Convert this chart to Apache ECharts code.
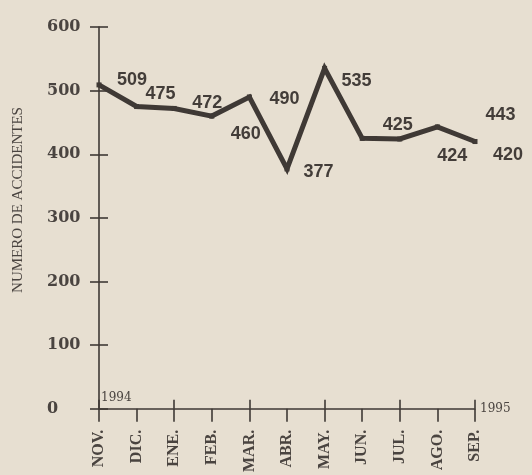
<!DOCTYPE html>
<html>
<head>
<meta charset="utf-8">
<script src="https://cdn.jsdelivr.net/npm/echarts@6/dist/echarts.min.js"></script>
<style>
html,body{margin:0;padding:0;background:#e7dfd1;}
#chart{width:532px;height:475px;}
</style>
</head>
<body>
<div id="chart"></div>
<script>
const months = ['NOV.','DIC.','ENE.','FEB.','MAR.','ABR.','MAY.','JUN.','JUL.','AGO.','SEP.'];
const accidents = [509,475,472,460,490,377,535,425,424,443,420];
const yMin = 0, yMax = 600, yStep = 100;
const yearStart = '1994';
const yearEnd = '1995';
const yTitle = 'NUMERO DE ACCIDENTES';
// label placement (layout only)
const labelOffsets = [[33,-5],[24,-13],[33,-5.5],[34,18],[35,2],[31.5,3.5],[32,13],[35.6,-13],[52.4,17],[63,-11.6],[33,13]];

const ink = '#3f3935';
const textInk = '#4a4440';

const chart = echarts.init(document.getElementById('chart'), null, {renderer:'canvas'});
const seriesData = accidents.map((v,i)=>({
  value: v,
  label: {offset: labelOffsets[i]}
}));

chart.setOption({
  backgroundColor: '#e7dfd1',
  animation: false,
  grid: {left: 99, right: 57, top: 27, bottom: 63, containLabel: false},
  xAxis: [{
    type: 'category', data: months, boundaryGap: false,
    position: 'bottom',
    axisLine: {show: true, lineStyle: {color: ink, width: 1.6}},
    axisTick: {show: true, inside: false, length: 13, lineStyle: {color: ink, width: 1.6}},
    axisLabel: {rotate: 90, margin: 21, color: textInk, fontFamily: 'Liberation Serif', fontWeight: 'bold', fontSize: 16},
    splitLine: {show: false},
    name: yearEnd, nameLocation: 'end', nameGap: 5,
    nameTextStyle: {fontFamily: 'DejaVu Serif', fontSize: 12, color: textInk, align: 'left', verticalAlign: 'middle'}
  },{
    type: 'category', data: months, boundaryGap: false,
    position: 'bottom',
    axisLine: {show: false},
    axisTick: {show: true, inside: true, length: 9, lineStyle: {color: ink, width: 1.6}},
    axisLabel: {show: false},
    splitLine: {show: false},
    name: yearStart, nameLocation: 'start', nameGap: -2,
    nameTextStyle: {fontFamily: 'DejaVu Serif', fontSize: 12, color: textInk, align: 'left', verticalAlign: 'bottom', padding: [0,0,5,0]}
  }],
  yAxis: [{
    type: 'value', min: yMin, max: yMax, interval: yStep,
    position: 'left',
    axisLine: {show: true, lineStyle: {color: ink, width: 1.6}},
    axisTick: {show: true, inside: false, length: 9, lineStyle: {color: ink, width: 1.6}},
    axisLabel: {margin: 52, align: 'left', color: textInk, fontFamily: 'DejaVu Serif', fontWeight: 'bold', fontSize: 16, padding: [0,0,8,0]},
    splitLine: {show: false}
  },{
    type: 'value', min: yMin, max: yMax, interval: yStep,
    position: 'left',
    axisLine: {show: false},
    axisTick: {show: true, inside: true, length: 9, lineStyle: {color: ink, width: 1.6}},
    axisLabel: {show: false},
    splitLine: {show: false}
  }],
  graphic: [{
    type: 'text', x: 18, y: 200, rotation: Math.PI/2,
    style: {text: yTitle, fill: textInk, font: '15px "Liberation Serif"', textAlign: 'center', textVerticalAlign: 'middle'}
  }],
  series: [{
    type: 'line',
    xAxisIndex: 0, yAxisIndex: 0,
    data: seriesData,
    symbol: 'rect', symbolSize: 5, showSymbol: true,
    itemStyle: {color: ink},
    lineStyle: {color: ink, width: 5, join: 'miter', miterLimit: 10},
    label: {
      show: true, position: 'inside', align: 'center', verticalAlign: 'middle',
      fontFamily: 'Liberation Sans', fontWeight: 'bold', fontSize: 18, color: '#433d39'
    },
    emphasis: {disabled: true}
  }]
});
</script>
</body>
</html>
